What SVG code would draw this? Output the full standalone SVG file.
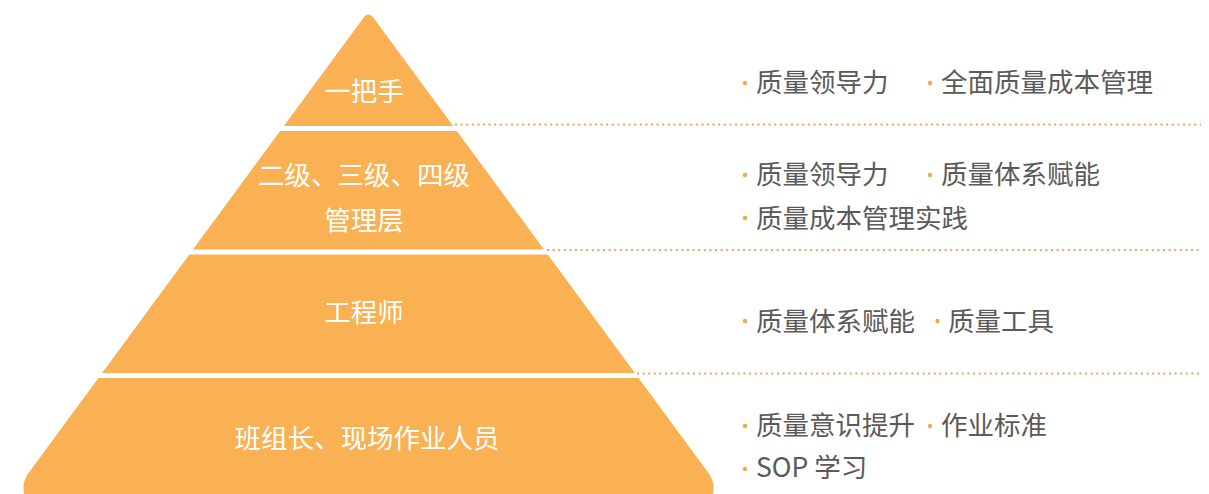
<svg xmlns="http://www.w3.org/2000/svg" width="1209" height="494" viewBox="0 0 1209 494">
  <style>
    .lbl { font-family: "Noto Sans CJK SC", "Noto Sans", sans-serif; font-size: 26.5px; fill: #ffffff; font-weight: 400; text-anchor: middle; }
    .txt { font-family: "Noto Sans CJK SC", "Noto Sans", sans-serif; font-size: 26.5px; fill: #5a5a5a; }
    .dot { fill: #F7A650; }
    .dash { stroke: #F5A05A; stroke-width: 2; stroke-dasharray: 2 3.6; fill: none; }
    .gap { fill: #ffffff; }
  </style>
  <rect width="1209" height="494" fill="#ffffff"/>
  <g id="pyramid">
    <path d="M 364.47 16.47 A 5 5 0 0 1 372.53 16.47 L 708.65 473.15 A 25 25 0 0 1 688.5 513 L 48.5 513 A 25 25 0 0 1 28.35 473.15 Z" fill="#F9B153"/>
    <rect class="gap" x="0" y="126" width="760" height="5"/>
    <rect class="gap" x="0" y="249.5" width="760" height="5"/>
    <rect class="gap" x="0" y="373" width="760" height="5"/>
  </g>
  <g id="connectors">
    <line class="dash" x1="455" y1="124.5" x2="1201" y2="124.5"/>
    <line class="dash" x1="547" y1="250" x2="1201" y2="250"/>
    <line class="dash" x1="637" y1="373.5" x2="1201" y2="373.5"/>
  </g>
  <g id="level1">
    <text class="lbl" x="364" y="101">一把手</text>
  </g>
  <g id="level2">
    <text class="lbl" x="364" y="185">二级、三级、四级</text>
    <text class="lbl" x="364" y="230">管理层</text>
  </g>
  <g id="level3">
    <text class="lbl" x="364" y="321.5">工程师</text>
  </g>
  <g id="level4">
    <text class="lbl" x="367" y="448">班组长、现场作业人员</text>
  </g>
  <g id="desc1">
    <circle class="dot" cx="745" cy="83" r="2.2"/>
    <text class="txt" x="756" y="92">质量领导力</text>
    <circle class="dot" cx="930" cy="83" r="2.2"/>
    <text class="txt" x="941" y="92">全面质量成本管理</text>
  </g>
  <g id="desc2">
    <circle class="dot" cx="745" cy="175" r="2.2"/>
    <text class="txt" x="756" y="184">质量领导力</text>
    <circle class="dot" cx="930" cy="175" r="2.2"/>
    <text class="txt" x="941" y="184">质量体系赋能</text>
    <circle class="dot" cx="745" cy="218" r="2.2"/>
    <text class="txt" x="756" y="228">质量成本管理实践</text>
  </g>
  <g id="desc3">
    <circle class="dot" cx="745" cy="321" r="2.2"/>
    <text class="txt" x="756" y="331">质量体系赋能</text>
    <circle class="dot" cx="937.5" cy="321" r="2.2"/>
    <text class="txt" x="948" y="331">质量工具</text>
  </g>
  <g id="desc4">
    <circle class="dot" cx="745" cy="426" r="2.2"/>
    <text class="txt" x="756" y="435">质量意识提升</text>
    <circle class="dot" cx="930" cy="426" r="2.2"/>
    <text class="txt" x="941" y="435">作业标准</text>
    <circle class="dot" cx="745" cy="469" r="2.2"/>
    <text class="txt" x="756" y="477">SOP 学习</text>
  </g>
</svg>
